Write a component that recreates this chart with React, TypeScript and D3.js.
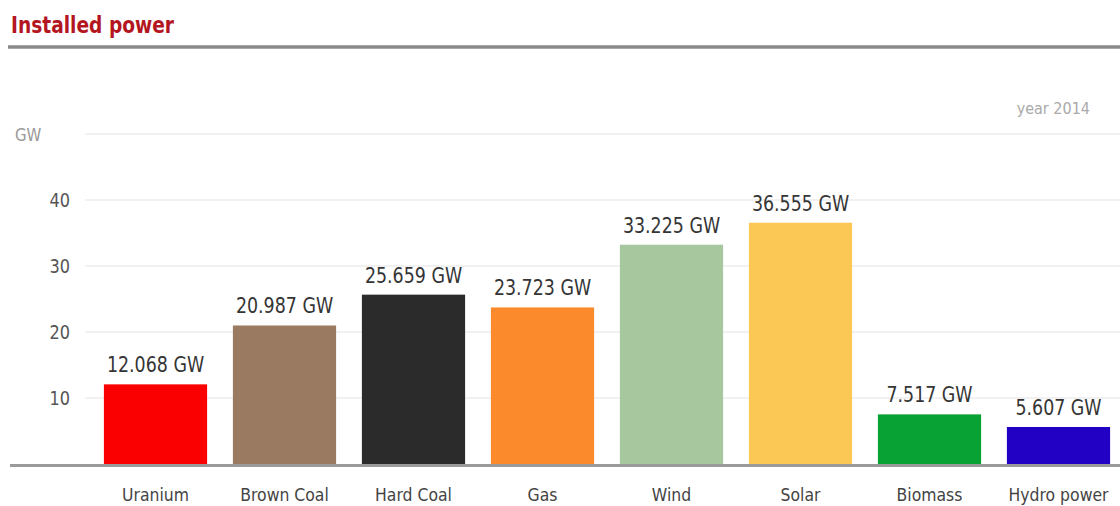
import React, { useEffect, useRef } from "react";
import * as d3 from "d3";

const categories = ["Uranium", "Brown Coal", "Hard Coal", "Gas", "Wind", "Solar", "Biomass", "Hydro power"];
const capacityGW = [12.068, 20.987, 25.659, 23.723, 33.225, 36.555, 7.517, 5.607];
const barColors = ["#fb0000", "#9a7a60", "#2b2b2b", "#fb8a2c", "#a7c79f", "#fcc855", "#07a233", "#2200c4"];
const yTicks = [10, 20, 30, 40];
const gridValues = [10, 20, 30, 40, 50];

const W = 1120;
const H = 506;
const FONT = "'DejaVu Sans', sans-serif";

export default function App() {
  const ref = useRef<SVGSVGElement>(null);

  useEffect(() => {
    const svg = d3.select(ref.current);
    svg.selectAll("*").remove();

    const baseY = 464;
    const x = d3.scaleBand<string>().domain(categories).range([91, 1123]).paddingInner(0.2).paddingOuter(0.1);
    const y = d3.scaleLinear().domain([0, 50]).range([baseY, 134]);

    // narrow text: glyphs are squeezed horizontally around their anchor point
    const narrow = (sx: number, px: (d: any, i: number) => number, py: (d: any, i: number) => number) =>
      (sel: d3.Selection<any, any, any, any>) =>
        sel.attr("font-family", FONT)
          .attr("transform", (d: any, i: number) => `translate(${px(d, i)},${py(d, i)}) scale(${sx},1)`);

    svg.append("rect").attr("width", W).attr("height", H).attr("fill", "#fff");

    // header
    svg.append("text")
      .call(narrow(0.81, () => 11, () => 33))
      .attr("font-weight", "bold").attr("font-size", 23)
      .attr("fill", "#b4161f")
      .text("Installed power");
    svg.append("line")
      .attr("x1", 8).attr("x2", W).attr("y1", 47).attr("y2", 47)
      .attr("stroke", "#8a8a8a").attr("stroke-width", 3.5);

    svg.append("text")
      .call(narrow(0.9, () => 1090, () => 114))
      .attr("text-anchor", "end")
      .attr("font-size", 16).attr("fill", "#aaa")
      .text("year 2014");

    // gridlines
    svg.append("g").selectAll("line").data(gridValues).join("line")
      .attr("x1", 85).attr("x2", W)
      .attr("y1", (d) => y(d)).attr("y2", (d) => y(d))
      .attr("stroke", "#ececec").attr("stroke-width", 1.5);

    // y labels
    svg.append("g").selectAll("text").data(yTicks).join("text")
      .call(narrow(0.85, () => 70, (d) => y(d) + 7))
      .attr("text-anchor", "end")
      .attr("font-size", 19).attr("fill", "#555")
      .text((d) => String(d));
    svg.append("text")
      .call(narrow(0.88, () => 15, () => 141))
      .attr("font-size", 17).attr("fill", "#999")
      .text("GW");

    // bars
    svg.append("g").selectAll("rect").data(categories).join("rect")
      .attr("x", (d) => x(d)!)
      .attr("width", x.bandwidth())
      .attr("y", (_d, i) => y(capacityGW[i]))
      .attr("height", (_d, i) => baseY - y(capacityGW[i]))
      .attr("fill", (_d, i) => barColors[i]);

    // value labels
    svg.append("g").selectAll("text").data(categories).join("text")
      .call(narrow(0.83, (d) => x(d)! + x.bandwidth() / 2, (_d, i) => y(capacityGW[i]) - 12))
      .attr("text-anchor", "middle")
      .attr("font-size", 21).attr("fill", "#353535")
      .text((_d, i) => `${capacityGW[i].toFixed(3)} GW`);

    // baseline
    svg.append("line")
      .attr("x1", 10).attr("x2", W).attr("y1", baseY + 1.5).attr("y2", baseY + 1.5)
      .attr("stroke", "#9a9a9a").attr("stroke-width", 3);

    // category labels
    svg.append("g").selectAll("text").data(categories).join("text")
      .call(narrow(0.87, (d) => x(d)! + x.bandwidth() / 2, () => 501))
      .attr("text-anchor", "middle")
      .attr("font-size", 18).attr("fill", "#444")
      .text((d) => d);
  }, []);

  return (
    <svg ref={ref} width={W} height={H} style={{ position: "absolute", left: 0, top: 0, display: "block" }} />
  );
}
